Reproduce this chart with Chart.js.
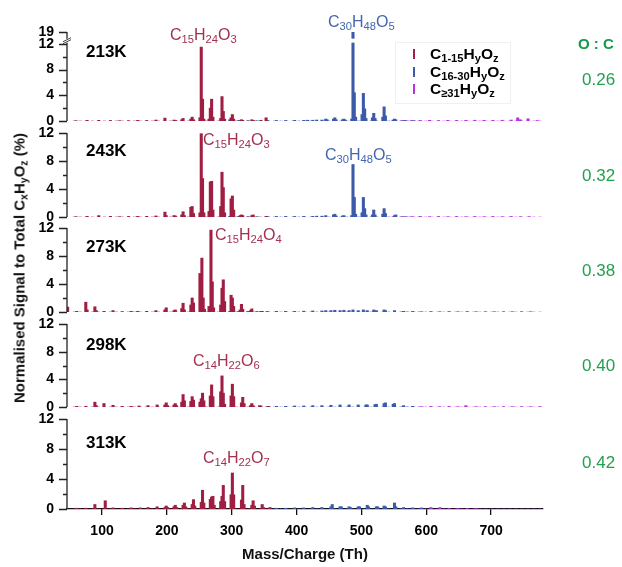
<!DOCTYPE html>
<html>
<head>
<meta charset="utf-8">
<script src="https://cdn.jsdelivr.net/npm/chart.js@4.4.0/dist/chart.umd.min.js"></script>
<style>
  body { margin: 0; background: #fff; }
  #wrap { position: relative; width: 622px; height: 567px; overflow: hidden; font-family: "Liberation Sans", Arial, sans-serif; }
  canvas { position: absolute; left: 0; }
  .lbl { position: absolute; white-space: nowrap; line-height: 1; }
  .lbl sub { font-size: 70%; vertical-align: baseline; position: relative; top: 0.3em; line-height: 0; }
  .temp { font-weight: bold; font-size: 17px; color: #000; }
  .formula { font-size: 16px; }
  .oc { font-size: 17px; color: #22A04E; }
  #legend { position: absolute; left: 395px; top: 42px; width: 116px; height: 62px; border: 1px solid #f0f0f0; box-sizing: border-box; }
  .lrow { position: absolute; left: 0; height: 16px; width: 116px; font-weight: bold; font-size: 15.5px; line-height: 16px; }
  .lrow .mark { position: absolute; left: 17px; top: 3px; width: 2px; height: 10px; }
  .lrow .txt { position: absolute; left: 34px; top: 0; white-space: nowrap; }
  .lrow sub { font-size: 72%; vertical-align: baseline; position: relative; top: 0.3em; line-height: 0; }
</style>
</head>
<body>
<div id="wrap"></div>
<script>
// axes
const xTickValues = [100, 200, 300, 400, 500, 600, 700];
const yTickValues = [0, 4, 8, 12];
const yMinorValues = [2, 6, 10];
const brokenTopLabel = 19;

const temperatures = ["213K", "243K", "273K", "298K", "313K"];
const oToC = ["0.26", "0.32", "0.38", "0.40", "0.42"];

const classLabels = ["1-15", "16-30", "\u226531"];
const classColors = ["#9F1E42", "#3C5AA8", "#B534E0"];
const labelColors = ["#A3304F", "#4466B0"];

// baseline extent (m/z) of each class
const baselineRanges = [[55, 360], [355, 590], [560, 780]];

// [m/z, % signal]
const red213 = [[60,0.05],[77,0.1],[95,0.1],[113,0.08],[127,0.05],[141,0.05],[155,0.1],[169,0.08],[183,0.15],[197,0.45],[211,0.15],[213,0.1],[223,0.2],[225,0.4],[237,0.3],[239,0.6],[241,0.2],[251,0.5],[253,11.5],[255,3.4],[257,0.3],[265,0.3],[267,2.0],[269,3.4],[271,0.6],[283,0.4],[285,3.8],[287,1.5],[289,0.3],[299,0.5],[301,1.0],[303,0.3],[315,0.2],[317,0.1],[331,0.2],[333,0.1],[345,0.1],[353,0.5]];
const blue213 = [[297,0.2],[311,0.1],[325,0.05],[339,0.05],[355,0.08],[369,0.08],[383,0.08],[397,0.1],[411,0.1],[417,0.12],[425,0.12],[431,0.15],[439,0.15],[445,0.3],[447,0.2],[457,0.3],[459,0.5],[461,0.2],[471,0.2],[473,0.3],[475,0.15],[485,0.3],[487,19],[489,4.4],[491,0.6],[501,1.0],[503,4.3],[505,1.9],[507,0.4],[517,0.5],[519,1.2],[521,0.4],[533,0.6],[535,2.2],[537,0.8],[549,0.15],[551,0.3],[553,0.2],[567,0.1],[581,0.05]];
const purple213 = [[521,0.05],[535,0.05],[549,0.05],[563,0.08],[577,0.08],[591,0.08],[605,0.1],[619,0.08],[633,0.1],[647,0.1],[661,0.1],[675,0.12],[689,0.1],[703,0.1],[717,0.12],[731,0.15],[741,0.5],[745,0.2],[757,0.35],[771,0.08]];

const red243 = [[60,0.05],[77,0.1],[95,0.2],[113,0.1],[127,0.05],[141,0.08],[155,0.1],[169,0.1],[183,0.15],[197,0.7],[199,0.2],[211,0.2],[213,0.15],[223,0.3],[225,0.75],[227,0.2],[237,1.4],[239,1.5],[241,0.5],[251,0.6],[253,11.9],[255,5.5],[257,0.6],[265,0.8],[267,5.0],[269,5.1],[271,1.0],[283,1.5],[285,6.4],[287,4.2],[289,0.6],[299,2.6],[301,3.0],[303,1.0],[313,0.2],[315,0.3],[317,0.2],[331,0.2],[333,0.3],[353,0.1]];
const blue243 = [[297,0.1],[311,0.1],[325,0.05],[339,0.05],[355,0.05],[369,0.08],[383,0.08],[397,0.08],[411,0.1],[425,0.1],[431,0.12],[439,0.12],[445,0.2],[457,0.3],[459,0.4],[461,0.15],[471,0.15],[473,0.2],[485,0.2],[487,7.5],[489,2.8],[491,0.4],[501,0.6],[503,2.8],[505,1.2],[507,0.3],[517,0.3],[519,1.0],[521,0.3],[533,0.4],[535,1.2],[537,0.5],[551,0.2],[553,0.3],[567,0.05]];
const purple243 = [[549,0.05],[563,0.05],[577,0.05],[591,0.08],[605,0.05],[619,0.08],[633,0.05],[647,0.08],[661,0.05],[675,0.08],[689,0.05],[703,0.08],[717,0.05],[731,0.08],[745,0.05],[759,0.05]];

const red273 = [[47,0.7],[61,0.1],[75,1.4],[77,0.3],[89,0.75],[91,0.2],[103,0.1],[117,0.2],[131,0.05],[145,0.1],[155,0.1],[169,0.1],[183,0.2],[197,0.3],[199,0.6],[211,0.2],[213,0.3],[223,0.5],[225,1.25],[227,0.3],[237,1.0],[239,2.0],[241,1.3],[251,5.5],[254,7.7],[256,2.0],[258,0.4],[265,0.8],[268,11.7],[270,4.3],[272,0.6],[283,1.0],[285,3.4],[287,4.6],[289,1.5],[299,2.4],[301,2.0],[303,0.8],[313,0.3],[315,1.1],[317,0.4],[329,0.2],[331,0.45],[345,0.1],[347,0.1]];
const blue273 = [[297,0.1],[311,0.1],[325,0.1],[339,0.08],[355,0.08],[369,0.1],[383,0.1],[397,0.1],[411,0.12],[425,0.15],[439,0.15],[445,0.2],[453,0.2],[459,0.25],[467,0.2],[473,0.25],[481,0.2],[487,0.3],[495,0.2],[503,0.3],[509,0.2],[519,0.3],[523,0.2],[535,0.3],[537,0.2],[551,0.2],[565,0.1],[579,0.05]];
const purple273 = [[551,0.05],[565,0.05],[579,0.08],[593,0.05],[607,0.08],[621,0.05],[635,0.08],[649,0.05],[663,0.08],[677,0.05],[691,0.05],[705,0.05],[719,0.05],[733,0.05],[747,0.05],[761,0.05]];

const red298 = [[61,0.1],[75,0.1],[89,0.7],[91,0.2],[103,0.5],[117,0.25],[131,0.1],[145,0.1],[157,0.15],[171,0.2],[185,0.3],[197,0.3],[199,0.6],[201,0.2],[211,0.3],[213,0.5],[215,0.2],[223,0.7],[225,1.8],[227,0.9],[237,0.8],[239,1.5],[241,1.0],[251,0.7],[253,1.2],[255,2.0],[257,0.9],[267,1.6],[269,3.2],[271,1.5],[283,2.2],[285,4.5],[287,2.0],[289,0.4],[299,1.6],[301,3.3],[303,1.5],[315,0.6],[317,1.4],[319,0.5],[329,0.2],[331,0.5],[333,0.2],[343,0.2],[345,0.15],[357,0.1]];
const blue298 = [[355,0.05],[369,0.1],[383,0.1],[397,0.15],[411,0.15],[425,0.2],[439,0.2],[453,0.25],[467,0.3],[481,0.3],[495,0.3],[507,0.3],[509,0.3],[521,0.35],[523,0.4],[535,0.5],[537,0.6],[549,0.4],[551,0.5],[565,0.2],[579,0.1]];
const purple298 = [[565,0.05],[579,0.08],[593,0.05],[607,0.08],[621,0.05],[635,0.08],[649,0.05],[661,0.2],[677,0.05],[691,0.05],[705,0.05],[719,0.05],[733,0.05],[747,0.05],[761,0.05],[775,0.05]];

const red313 = [[61,0.1],[75,0.1],[89,0.6],[105,1.1],[117,0.15],[131,0.1],[145,0.15],[159,0.15],[171,0.2],[185,0.3],[197,0.2],[199,0.4],[201,0.2],[211,0.3],[213,0.5],[215,0.2],[225,0.5],[227,0.8],[229,0.3],[239,0.6],[241,1.25],[243,0.4],[253,0.9],[255,2.5],[257,0.8],[267,1.3],[269,1.6],[271,1.7],[273,0.5],[283,1.0],[285,1.7],[287,3.15],[289,1.0],[299,1.9],[301,4.8],[303,1.9],[315,1.2],[317,3.15],[319,0.6],[331,0.5],[333,1.1],[335,0.4],[347,0.6],[349,0.2],[359,0.2]];
const blue313 = [[359,0.1],[369,0.1],[383,0.1],[397,0.15],[411,0.15],[425,0.2],[439,0.2],[453,0.3],[455,0.6],[467,0.3],[469,0.3],[481,0.3],[483,0.2],[495,0.3],[497,0.3],[509,0.5],[511,0.3],[523,0.3],[525,0.3],[535,0.4],[537,0.3],[551,0.8],[553,0.3],[565,0.2],[579,0.15],[593,0.1]];
const purple313 = [[565,0.05],[579,0.1],[593,0.15],[607,0.2],[621,0.2],[635,0.05],[649,0.05],[663,0.05],[677,0.05]];

const spectra = [
  [red213, blue213, purple213],
  [red243, blue243, purple243],
  [red273, blue273, purple273],
  [red298, blue298, purple298],
  [red313, blue313, purple313]
];

const peakNames = [
  [["C15H24O3", 0], ["C30H48O5", 1]],
  [["C15H24O3", 0], ["C30H48O5", 1]],
  [["C15H24O4", 0]],
  [["C14H22O6", 0]],
  [["C14H22O7", 0]]
];

// layout (page pixels)
const X_MIN = 46, X_MAX = 780;
const AXIS_LEFT = 67, AXIS_RIGHT = 543;
const panelBoxes = [
  { top: 32, bottom: 121 },
  { top: 133, bottom: 217 },
  { top: 228, bottom: 312 },
  { top: 324, bottom: 407 },
  { top: 419, bottom: 509 }
];
const topAxisMax = 13.85;   // where the broken axis shows 19
const breakValue = 12.5;
const peakLabelPos = [
  [[170, 40], [328, 27]],
  [[203, 145], [325, 160]],
  [[215, 240]],
  [[193, 366]],
  [[203, 463]]
];
const tempTops = [43, 141.5, 237.5, 335.5, 433.5];
const ocCenters = [79, 175, 270, 365, 462];

const wrap = document.getElementById("wrap");

function subscriptDigits(s) {
  return s.replace(/(\d+)/g, "<sub>$1</sub>");
}

function addLabel(html, cls, left, top, color) {
  const d = document.createElement("div");
  d.className = "lbl " + cls;
  d.innerHTML = html;
  d.style.left = left + "px";
  d.style.top = top + "px";
  if (color) d.style.color = color;
  wrap.appendChild(d);
  return d;
}

const axisPlugin = {
  id: "axisPlugin",
  afterDraw(chart, args, opts) {
    const { ctx, chartArea, scales } = chart;
    const y = scales.y;
    const x0 = chartArea.left;
    ctx.save();
    ctx.strokeStyle = "#222";
    ctx.lineWidth = 1.3;
    ctx.beginPath();
    ctx.moveTo(x0, chartArea.top);
    ctx.lineTo(x0, chartArea.bottom);
    const major = opts.broken ? yTickValues.concat([topAxisMax]) : yTickValues;
    major.forEach(v => {
      const py = Math.round(y.getPixelForValue(v)) + 0.5;
      ctx.moveTo(x0 - 8, py);
      ctx.lineTo(x0, py);
    });
    yMinorValues.forEach(v => {
      const py = Math.round(y.getPixelForValue(v)) + 0.5;
      ctx.moveTo(x0 - 4, py);
      ctx.lineTo(x0, py);
    });
    ctx.stroke();

    if (opts.broken) {
      const yb = y.getPixelForValue(breakValue);
      // gap in the tallest peak
      const meta = chart.getDatasetMeta(1);
      const vals = meta.data.map((el, i) => meta._parsed[i].y);
      const el = meta.data[vals.indexOf(Math.max(...vals))];
      ctx.fillStyle = "#fff";
      ctx.fillRect(el.x - 3, yb - 2, 6, 4);
      // slashes on axis
      ctx.fillRect(x0 - 1.5, yb - 2, 3, 4);
      ctx.strokeStyle = "#444";
      ctx.lineWidth = 1;
      ctx.beginPath();
      ctx.moveTo(x0 - 4, yb + 3);
      ctx.lineTo(x0 + 4, yb - 1);
      ctx.moveTo(x0 - 4, yb + 1);
      ctx.lineTo(x0 + 4, yb - 3);
      ctx.stroke();
    }
    ctx.restore();
  }
};

function makePanel(i) {
  const box = panelBoxes[i];
  const isBottom = i === panelBoxes.length - 1;
  const broken = i === 0;
  // y tick labels ask for ~22px above/below the plot area, keep pads larger
  const padTop = 26;
  const padBottom = isBottom ? 0 : 26;
  const xAxisHeight = isBottom ? 40 : 0;

  const canvas = document.createElement("canvas");
  canvas.width = 622;
  canvas.height = box.bottom - box.top + padTop + padBottom + xAxisHeight;
  canvas.style.top = (box.top - padTop) + "px";
  wrap.appendChild(canvas);

  const datasets = [];
  spectra[i].forEach((series, k) => {
    datasets.push({
      type: "bar",
      data: series.map(p => ({ x: p[0], y: p[1] })),
      backgroundColor: classColors[k],
      barThickness: 2.4,
      grouped: false,
      clip: 0,
      order: 1
    });
  });
  baselineRanges.forEach((r, k) => {
    datasets.push({
      type: "line",
      data: r.map(v => ({ x: v, y: 0 })),
      borderColor: classColors[k] + "66",
      borderWidth: 1.5,
      borderDash: [3, 3],
      pointRadius: 0,
      order: 2
    });
  });

  const yMax = broken ? topAxisMax : 12;

  new Chart(canvas, {
    type: "bar",
    data: { datasets },
    plugins: [axisPlugin],
    options: {
      responsive: false,
      animation: false,
      devicePixelRatio: 1,
      layout: { padding: { left: 0, right: 622 - AXIS_RIGHT, top: padTop, bottom: padBottom } },
      plugins: {
        legend: { display: false },
        tooltip: { enabled: false },
        axisPlugin: { broken }
      },
      scales: {
        x: {
          type: "linear",
          min: X_MIN,
          max: X_MAX,
          offset: false,
          display: isBottom,
          afterBuildTicks: s => { s.ticks = xTickValues.map(v => ({ value: v })); },
          afterFit: s => { s.height = xAxisHeight; },
          border: { display: true, color: "#111", width: 1.3 },
          grid: { display: true, offset: false, drawOnChartArea: false, drawTicks: true, tickLength: 6, color: "#111", lineWidth: 1.3 },
          ticks: { color: "#000", padding: 8, maxRotation: 0, font: { family: "Liberation Sans", weight: "bold", size: 14 } }
        },
        y: {
          min: 0,
          max: yMax,
          afterBuildTicks: s => {
            const vals = broken ? yTickValues.concat([topAxisMax]) : yTickValues;
            s.ticks = vals.map(v => ({ value: v }));
          },
          afterFit: s => { s.width = AXIS_LEFT; },
          border: { display: false },
          grid: { display: false, drawTicks: false },
          ticks: {
            color: "#000",
            padding: 13,
            font: { family: "Liberation Sans", weight: "bold", size: 14 },
            callback: v => (broken && v === topAxisMax) ? String(brokenTopLabel) : String(v)
          }
        }
      }
    }
  });

  addLabel(temperatures[i], "temp", 86, tempTops[i]);
  peakNames[i].forEach((pn, j) => {
    const pos = peakLabelPos[i][j];
    addLabel(subscriptDigits(pn[0]), "formula", pos[0], pos[1] - 13.5, labelColors[pn[1]]);
  });
  addLabel(oToC[i], "oc", 582, ocCenters[i] - 8.5);
}

panelBoxes.forEach((b, i) => makePanel(i));

// O:C header
addLabel("O : C", "oc", 578, 36).style.cssText += "font-weight:bold;font-size:15px;color:#129B48;";

// legend
const legend = document.createElement("div");
legend.id = "legend";
const rowTops = [3, 21, 38];
classLabels.forEach((c, k) => {
  const row = document.createElement("div");
  row.className = "lrow";
  row.style.top = rowTops[k] + "px";
  row.innerHTML = `<span class="mark" style="background:${classColors[k]}"></span>` +
    `<span class="txt">C<sub>${c}</sub>H<sub>y</sub>O<sub>z</sub></span>`;
  legend.appendChild(row);
});
wrap.appendChild(legend);

// axis titles
const yTitle = addLabel("Normalised Signal to Total C<sub>x</sub>H<sub>y</sub>O<sub>z</sub> (%)", "", 19, 268);
yTitle.style.cssText += "font-weight:bold;font-size:15px;color:#111;transform:translate(-50%,-50%) rotate(-90deg);";
const xTitle = addLabel("Mass/Charge (Th)", "", 305, 553);
xTitle.style.cssText += "font-weight:bold;font-size:15px;color:#111;transform:translate(-50%,-50%);";
</script>
</body>
</html>
